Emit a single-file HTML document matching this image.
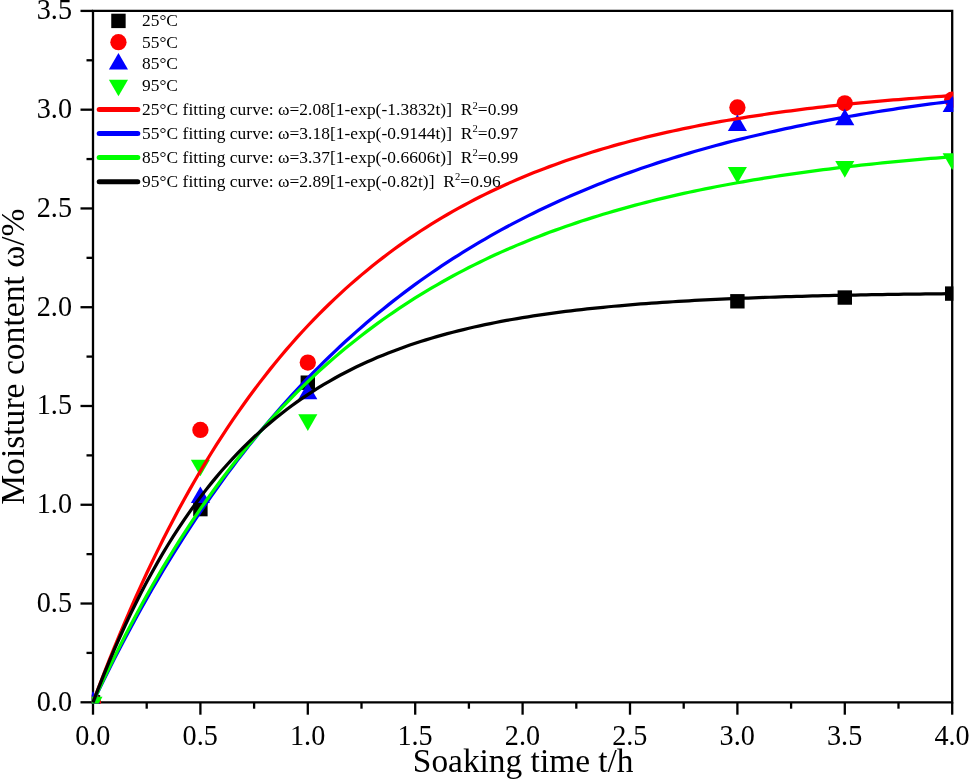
<!DOCTYPE html>
<html><head><meta charset="utf-8"><style>html,body{margin:0;padding:0;background:#fff;width:969px;height:779px;overflow:hidden}svg{display:block;will-change:transform}text{font-family:"Liberation Serif",serif;fill:#000}</style></head>
<body><svg width="969" height="779" viewBox="0 0 969 779" font-family="Liberation Serif, serif">
<defs><clipPath id="pc"><rect x="91.8" y="9.709999999999969" width="861.6" height="693.79"/></clipPath></defs>
<rect width="969" height="779" fill="#fff"/>
<path d="M93.0,10.909999999999968 L952.2,10.909999999999968 L952.2,702.3 L93.0,702.3 Z" fill="none" stroke="#000" stroke-width="2.3" stroke-linejoin="miter"/><line x1="80.50" y1="702.30" x2="93.0" y2="702.30" stroke="#000" stroke-width="2.3"/><line x1="86.50" y1="652.91" x2="93.0" y2="652.91" stroke="#000" stroke-width="2.3"/><line x1="80.50" y1="603.53" x2="93.0" y2="603.53" stroke="#000" stroke-width="2.3"/><line x1="86.50" y1="554.14" x2="93.0" y2="554.14" stroke="#000" stroke-width="2.3"/><line x1="80.50" y1="504.76" x2="93.0" y2="504.76" stroke="#000" stroke-width="2.3"/><line x1="86.50" y1="455.38" x2="93.0" y2="455.38" stroke="#000" stroke-width="2.3"/><line x1="80.50" y1="405.99" x2="93.0" y2="405.99" stroke="#000" stroke-width="2.3"/><line x1="86.50" y1="356.60" x2="93.0" y2="356.60" stroke="#000" stroke-width="2.3"/><line x1="80.50" y1="307.22" x2="93.0" y2="307.22" stroke="#000" stroke-width="2.3"/><line x1="86.50" y1="257.83" x2="93.0" y2="257.83" stroke="#000" stroke-width="2.3"/><line x1="80.50" y1="208.45" x2="93.0" y2="208.45" stroke="#000" stroke-width="2.3"/><line x1="86.50" y1="159.06" x2="93.0" y2="159.06" stroke="#000" stroke-width="2.3"/><line x1="80.50" y1="109.68" x2="93.0" y2="109.68" stroke="#000" stroke-width="2.3"/><line x1="86.50" y1="60.29" x2="93.0" y2="60.29" stroke="#000" stroke-width="2.3"/><line x1="80.50" y1="10.91" x2="93.0" y2="10.91" stroke="#000" stroke-width="2.3"/><line x1="93.00" y1="702.3" x2="93.00" y2="714.70" stroke="#000" stroke-width="2.3"/><line x1="146.70" y1="702.3" x2="146.70" y2="708.70" stroke="#000" stroke-width="2.3"/><line x1="200.40" y1="702.3" x2="200.40" y2="714.70" stroke="#000" stroke-width="2.3"/><line x1="254.10" y1="702.3" x2="254.10" y2="708.70" stroke="#000" stroke-width="2.3"/><line x1="307.80" y1="702.3" x2="307.80" y2="714.70" stroke="#000" stroke-width="2.3"/><line x1="361.50" y1="702.3" x2="361.50" y2="708.70" stroke="#000" stroke-width="2.3"/><line x1="415.20" y1="702.3" x2="415.20" y2="714.70" stroke="#000" stroke-width="2.3"/><line x1="468.90" y1="702.3" x2="468.90" y2="708.70" stroke="#000" stroke-width="2.3"/><line x1="522.60" y1="702.3" x2="522.60" y2="714.70" stroke="#000" stroke-width="2.3"/><line x1="576.30" y1="702.3" x2="576.30" y2="708.70" stroke="#000" stroke-width="2.3"/><line x1="630.00" y1="702.3" x2="630.00" y2="714.70" stroke="#000" stroke-width="2.3"/><line x1="683.70" y1="702.3" x2="683.70" y2="708.70" stroke="#000" stroke-width="2.3"/><line x1="737.40" y1="702.3" x2="737.40" y2="714.70" stroke="#000" stroke-width="2.3"/><line x1="791.10" y1="702.3" x2="791.10" y2="708.70" stroke="#000" stroke-width="2.3"/><line x1="844.80" y1="702.3" x2="844.80" y2="714.70" stroke="#000" stroke-width="2.3"/><line x1="898.50" y1="702.3" x2="898.50" y2="708.70" stroke="#000" stroke-width="2.3"/><line x1="952.20" y1="702.3" x2="952.20" y2="714.70" stroke="#000" stroke-width="2.3"/>
<g clip-path="url(#pc)"><rect x="85.80" y="695.10" width="14.4" height="14.4" fill="#000"/><rect x="193.20" y="501.91" width="14.4" height="14.4" fill="#000"/><rect x="300.60" y="375.48" width="14.4" height="14.4" fill="#000"/><rect x="730.20" y="294.09" width="14.4" height="14.4" fill="#000"/><rect x="837.60" y="290.34" width="14.4" height="14.4" fill="#000"/><rect x="945.00" y="286.39" width="14.4" height="14.4" fill="#000"/><circle cx="93.00" cy="702.30" r="8.15" fill="#f00"/><circle cx="200.40" cy="429.89" r="8.15" fill="#f00"/><circle cx="307.80" cy="362.53" r="8.15" fill="#f00"/><circle cx="737.40" cy="107.51" r="8.15" fill="#f00"/><circle cx="844.80" cy="103.36" r="8.15" fill="#f00"/><circle cx="952.20" cy="99.61" r="8.15" fill="#f00"/><polygon points="93.00,691.23 102.55,707.83 83.45,707.83" fill="#00f"/><polygon points="200.40,486.39 209.95,502.99 190.85,502.99" fill="#00f"/><polygon points="307.80,382.68 317.35,399.28 298.25,399.28" fill="#00f"/><polygon points="737.40,114.42 746.95,131.02 727.85,131.02" fill="#00f"/><polygon points="844.80,108.69 854.35,125.29 835.25,125.29" fill="#00f"/><polygon points="952.20,95.45 961.75,112.05 942.65,112.05" fill="#00f"/><polygon points="83.45,696.77 102.55,696.77 93.00,713.37" fill="#0f0"/><polygon points="190.85,459.72 209.95,459.72 200.40,476.32" fill="#0f0"/><polygon points="298.25,414.28 317.35,414.28 307.80,430.88" fill="#0f0"/><polygon points="727.85,166.96 746.95,166.96 737.40,183.56" fill="#0f0"/><polygon points="835.25,161.04 854.35,161.04 844.80,177.64" fill="#0f0"/><polygon points="942.65,153.33 961.75,153.33 952.20,169.93" fill="#0f0"/><path d="M93.00,702.30 L98.37,688.00 L103.74,674.04 L109.11,660.39 L114.48,647.06 L119.85,634.04 L125.22,621.31 L130.59,608.88 L135.96,596.73 L141.33,584.86 L146.70,573.27 L152.07,561.94 L157.44,550.87 L162.81,540.06 L168.18,529.49 L173.55,519.17 L178.92,509.09 L184.29,499.23 L189.66,489.61 L195.03,480.20 L200.40,471.01 L205.77,462.03 L211.14,453.26 L216.51,444.69 L221.88,436.32 L227.25,428.14 L232.62,420.15 L237.99,412.34 L243.36,404.71 L248.73,397.26 L254.10,389.98 L259.47,382.86 L264.84,375.91 L270.21,369.12 L275.58,362.49 L280.95,356.00 L286.32,349.67 L291.69,343.48 L297.06,337.44 L302.43,331.53 L307.80,325.76 L313.17,320.12 L318.54,314.62 L323.91,309.23 L329.28,303.98 L334.65,298.84 L340.02,293.82 L345.39,288.92 L350.76,284.12 L356.13,279.44 L361.50,274.87 L366.87,270.40 L372.24,266.04 L377.61,261.77 L382.98,257.61 L388.35,253.54 L393.72,249.56 L399.09,245.67 L404.46,241.88 L409.83,238.17 L415.20,234.54 L420.57,231.00 L425.94,227.54 L431.31,224.16 L436.68,220.86 L442.05,217.63 L447.42,214.48 L452.79,211.40 L458.16,208.39 L463.53,205.45 L468.90,202.58 L474.27,199.78 L479.64,197.04 L485.01,194.36 L490.38,191.74 L495.75,189.18 L501.12,186.69 L506.49,184.25 L511.86,181.86 L517.23,179.53 L522.60,177.26 L527.97,175.03 L533.34,172.86 L538.71,170.74 L544.08,168.66 L549.45,166.64 L554.82,164.66 L560.19,162.72 L565.56,160.83 L570.93,158.99 L576.30,157.19 L581.67,155.42 L587.04,153.70 L592.41,152.02 L597.78,150.38 L603.15,148.77 L608.52,147.20 L613.89,145.67 L619.26,144.17 L624.63,142.71 L630.00,141.28 L635.37,139.88 L640.74,138.52 L646.11,137.19 L651.48,135.88 L656.85,134.61 L662.22,133.37 L667.59,132.15 L672.96,130.97 L678.33,129.81 L683.70,128.67 L689.07,127.57 L694.44,126.49 L699.81,125.43 L705.18,124.40 L710.55,123.39 L715.92,122.41 L721.29,121.44 L726.66,120.50 L732.03,119.58 L737.40,118.69 L742.77,117.81 L748.14,116.95 L753.51,116.12 L758.88,115.30 L764.25,114.50 L769.62,113.72 L774.99,112.95 L780.36,112.21 L785.73,111.48 L791.10,110.77 L796.47,110.08 L801.84,109.40 L807.21,108.73 L812.58,108.08 L817.95,107.45 L823.32,106.83 L828.69,106.23 L834.06,105.64 L839.43,105.06 L844.80,104.50 L850.17,103.95 L855.54,103.41 L860.91,102.88 L866.28,102.37 L871.65,101.87 L877.02,101.38 L882.39,100.90 L887.76,100.43 L893.13,99.97 L898.50,99.53 L903.87,99.09 L909.24,98.66 L914.61,98.25 L919.98,97.84 L925.35,97.44 L930.72,97.05 L936.09,96.67 L941.46,96.30 L946.83,95.94 L952.20,95.59" fill="none" stroke="#ff0000" stroke-width="3.25" stroke-linejoin="round"/><path d="M93.00,702.30 L98.37,691.09 L103.74,680.08 L109.11,669.27 L114.48,658.64 L119.85,648.20 L125.22,637.95 L130.59,627.87 L135.96,617.97 L141.33,608.24 L146.70,598.69 L152.07,589.30 L157.44,580.07 L162.81,571.01 L168.18,562.11 L173.55,553.36 L178.92,544.77 L184.29,536.33 L189.66,528.03 L195.03,519.89 L200.40,511.88 L205.77,504.01 L211.14,496.29 L216.51,488.70 L221.88,481.24 L227.25,473.91 L232.62,466.71 L237.99,459.64 L243.36,452.69 L248.73,445.86 L254.10,439.16 L259.47,432.57 L264.84,426.09 L270.21,419.73 L275.58,413.48 L280.95,407.35 L286.32,401.31 L291.69,395.39 L297.06,389.57 L302.43,383.85 L307.80,378.23 L313.17,372.71 L318.54,367.28 L323.91,361.96 L329.28,356.72 L334.65,351.58 L340.02,346.53 L345.39,341.56 L350.76,336.68 L356.13,331.89 L361.50,327.19 L366.87,322.56 L372.24,318.02 L377.61,313.55 L382.98,309.17 L388.35,304.86 L393.72,300.63 L399.09,296.47 L404.46,292.38 L409.83,288.37 L415.20,284.42 L420.57,280.55 L425.94,276.74 L431.31,273.00 L436.68,269.33 L442.05,265.72 L447.42,262.17 L452.79,258.69 L458.16,255.26 L463.53,251.90 L468.90,248.60 L474.27,245.35 L479.64,242.16 L485.01,239.03 L490.38,235.95 L495.75,232.93 L501.12,229.95 L506.49,227.04 L511.86,224.17 L517.23,221.35 L522.60,218.58 L527.97,215.86 L533.34,213.19 L538.71,210.57 L544.08,207.99 L549.45,205.45 L554.82,202.96 L560.19,200.52 L565.56,198.12 L570.93,195.76 L576.30,193.44 L581.67,191.16 L587.04,188.92 L592.41,186.72 L597.78,184.56 L603.15,182.44 L608.52,180.35 L613.89,178.30 L619.26,176.29 L624.63,174.31 L630.00,172.37 L635.37,170.46 L640.74,168.59 L646.11,166.74 L651.48,164.93 L656.85,163.16 L662.22,161.41 L667.59,159.69 L672.96,158.01 L678.33,156.35 L683.70,154.72 L689.07,153.12 L694.44,151.55 L699.81,150.01 L705.18,148.49 L710.55,147.00 L715.92,145.54 L721.29,144.10 L726.66,142.69 L732.03,141.30 L737.40,139.94 L742.77,138.60 L748.14,137.28 L753.51,135.99 L758.88,134.72 L764.25,133.47 L769.62,132.24 L774.99,131.04 L780.36,129.85 L785.73,128.69 L791.10,127.55 L796.47,126.43 L801.84,125.32 L807.21,124.24 L812.58,123.18 L817.95,122.13 L823.32,121.10 L828.69,120.09 L834.06,119.10 L839.43,118.13 L844.80,117.17 L850.17,116.23 L855.54,115.31 L860.91,114.40 L866.28,113.51 L871.65,112.63 L877.02,111.77 L882.39,110.92 L887.76,110.09 L893.13,109.28 L898.50,108.48 L903.87,107.69 L909.24,106.91 L914.61,106.15 L919.98,105.41 L925.35,104.67 L930.72,103.95 L936.09,103.24 L941.46,102.55 L946.83,101.86 L952.20,101.19" fill="none" stroke="#0000ff" stroke-width="3.25" stroke-linejoin="round"/><path d="M93.00,702.30 L98.37,690.59 L103.74,679.13 L109.11,667.90 L114.48,656.90 L119.85,646.13 L125.22,635.59 L130.59,625.26 L135.96,615.15 L141.33,605.25 L146.70,595.55 L152.07,586.05 L157.44,576.75 L162.81,567.64 L168.18,558.72 L173.55,549.99 L178.92,541.43 L184.29,533.06 L189.66,524.85 L195.03,516.82 L200.40,508.95 L205.77,501.25 L211.14,493.70 L216.51,486.31 L221.88,479.08 L227.25,471.99 L232.62,465.05 L237.99,458.26 L243.36,451.60 L248.73,445.08 L254.10,438.70 L259.47,432.45 L264.84,426.33 L270.21,420.34 L275.58,414.47 L280.95,408.72 L286.32,403.09 L291.69,397.58 L297.06,392.18 L302.43,386.89 L307.80,381.71 L313.17,376.64 L318.54,371.68 L323.91,366.82 L329.28,362.05 L334.65,357.39 L340.02,352.83 L345.39,348.35 L350.76,343.97 L356.13,339.69 L361.50,335.49 L366.87,331.37 L372.24,327.34 L377.61,323.40 L382.98,319.54 L388.35,315.75 L393.72,312.05 L399.09,308.42 L404.46,304.87 L409.83,301.39 L415.20,297.98 L420.57,294.65 L425.94,291.38 L431.31,288.18 L436.68,285.05 L442.05,281.98 L447.42,278.97 L452.79,276.03 L458.16,273.15 L463.53,270.33 L468.90,267.56 L474.27,264.86 L479.64,262.21 L485.01,259.61 L490.38,257.07 L495.75,254.58 L501.12,252.14 L506.49,249.75 L511.86,247.42 L517.23,245.13 L522.60,242.88 L527.97,240.69 L533.34,238.54 L538.71,236.43 L544.08,234.37 L549.45,232.35 L554.82,230.37 L560.19,228.44 L565.56,226.54 L570.93,224.68 L576.30,222.86 L581.67,221.08 L587.04,219.34 L592.41,217.63 L597.78,215.96 L603.15,214.32 L608.52,212.72 L613.89,211.14 L619.26,209.61 L624.63,208.10 L630.00,206.62 L635.37,205.18 L640.74,203.76 L646.11,202.38 L651.48,201.02 L656.85,199.69 L662.22,198.39 L667.59,197.12 L672.96,195.87 L678.33,194.65 L683.70,193.45 L689.07,192.28 L694.44,191.13 L699.81,190.01 L705.18,188.91 L710.55,187.83 L715.92,186.77 L721.29,185.74 L726.66,184.73 L732.03,183.73 L737.40,182.76 L742.77,181.81 L748.14,180.88 L753.51,179.97 L758.88,179.08 L764.25,178.20 L769.62,177.35 L774.99,176.51 L780.36,175.69 L785.73,174.88 L791.10,174.09 L796.47,173.32 L801.84,172.57 L807.21,171.83 L812.58,171.10 L817.95,170.39 L823.32,169.70 L828.69,169.02 L834.06,168.35 L839.43,167.70 L844.80,167.06 L850.17,166.44 L855.54,165.82 L860.91,165.22 L866.28,164.64 L871.65,164.06 L877.02,163.50 L882.39,162.94 L887.76,162.40 L893.13,161.87 L898.50,161.36 L903.87,160.85 L909.24,160.35 L914.61,159.86 L919.98,159.39 L925.35,158.92 L930.72,158.46 L936.09,158.02 L941.46,157.58 L946.83,157.15 L952.20,156.73" fill="none" stroke="#00ff00" stroke-width="3.25" stroke-linejoin="round"/><path d="M93.00,702.30 L98.37,688.32 L103.74,674.82 L109.11,661.77 L114.48,649.17 L119.85,637.00 L125.22,625.25 L130.59,613.89 L135.96,602.92 L141.33,592.33 L146.70,582.10 L152.07,572.21 L157.44,562.66 L162.81,553.44 L168.18,544.53 L173.55,535.93 L178.92,527.62 L184.29,519.59 L189.66,511.84 L195.03,504.35 L200.40,497.11 L205.77,490.12 L211.14,483.37 L216.51,476.85 L221.88,470.56 L227.25,464.47 L232.62,458.60 L237.99,452.92 L243.36,447.44 L248.73,442.14 L254.10,437.03 L259.47,432.09 L264.84,427.32 L270.21,422.71 L275.58,418.25 L280.95,413.95 L286.32,409.80 L291.69,405.79 L297.06,401.91 L302.43,398.17 L307.80,394.55 L313.17,391.06 L318.54,387.68 L323.91,384.42 L329.28,381.28 L334.65,378.23 L340.02,375.30 L345.39,372.46 L350.76,369.72 L356.13,367.07 L361.50,364.52 L366.87,362.05 L372.24,359.66 L377.61,357.36 L382.98,355.13 L388.35,352.98 L393.72,350.91 L399.09,348.90 L404.46,346.96 L409.83,345.09 L415.20,343.28 L420.57,341.54 L425.94,339.85 L431.31,338.22 L436.68,336.65 L442.05,335.13 L447.42,333.66 L452.79,332.24 L458.16,330.87 L463.53,329.55 L468.90,328.27 L474.27,327.04 L479.64,325.85 L485.01,324.69 L490.38,323.58 L495.75,322.51 L501.12,321.47 L506.49,320.47 L511.86,319.50 L517.23,318.56 L522.60,317.66 L527.97,316.79 L533.34,315.94 L538.71,315.13 L544.08,314.34 L549.45,313.58 L554.82,312.85 L560.19,312.14 L565.56,311.46 L570.93,310.79 L576.30,310.15 L581.67,309.54 L587.04,308.94 L592.41,308.37 L597.78,307.81 L603.15,307.27 L608.52,306.75 L613.89,306.25 L619.26,305.77 L624.63,305.30 L630.00,304.85 L635.37,304.41 L640.74,303.99 L646.11,303.59 L651.48,303.19 L656.85,302.81 L662.22,302.45 L667.59,302.09 L672.96,301.75 L678.33,301.42 L683.70,301.10 L689.07,300.79 L694.44,300.49 L699.81,300.21 L705.18,299.93 L710.55,299.66 L715.92,299.40 L721.29,299.15 L726.66,298.91 L732.03,298.67 L737.40,298.45 L742.77,298.23 L748.14,298.02 L753.51,297.82 L758.88,297.62 L764.25,297.43 L769.62,297.25 L774.99,297.07 L780.36,296.90 L785.73,296.73 L791.10,296.57 L796.47,296.42 L801.84,296.27 L807.21,296.13 L812.58,295.99 L817.95,295.85 L823.32,295.72 L828.69,295.60 L834.06,295.48 L839.43,295.36 L844.80,295.25 L850.17,295.14 L855.54,295.03 L860.91,294.93 L866.28,294.83 L871.65,294.74 L877.02,294.65 L882.39,294.56 L887.76,294.47 L893.13,294.39 L898.50,294.31 L903.87,294.23 L909.24,294.16 L914.61,294.09 L919.98,294.02 L925.35,293.95 L930.72,293.89 L936.09,293.82 L941.46,293.76 L946.83,293.70 L952.20,293.65" fill="none" stroke="#000000" stroke-width="3.25" stroke-linejoin="round"/></g>
<text transform="translate(72.0,710.60) scale(1,1.045)" text-anchor="end" font-size="28.2">0.0</text><text transform="translate(72.0,611.83) scale(1,1.045)" text-anchor="end" font-size="28.2">0.5</text><text transform="translate(72.0,513.06) scale(1,1.045)" text-anchor="end" font-size="28.2">1.0</text><text transform="translate(72.0,414.29) scale(1,1.045)" text-anchor="end" font-size="28.2">1.5</text><text transform="translate(72.0,315.52) scale(1,1.045)" text-anchor="end" font-size="28.2">2.0</text><text transform="translate(72.0,216.75) scale(1,1.045)" text-anchor="end" font-size="28.2">2.5</text><text transform="translate(72.0,117.98) scale(1,1.045)" text-anchor="end" font-size="28.2">3.0</text><text transform="translate(72.0,19.21) scale(1,1.045)" text-anchor="end" font-size="28.2">3.5</text><text transform="translate(92.80,745.4) scale(1,1.045)" text-anchor="middle" font-size="28.2">0.0</text><text transform="translate(200.20,745.4) scale(1,1.045)" text-anchor="middle" font-size="28.2">0.5</text><text transform="translate(307.60,745.4) scale(1,1.045)" text-anchor="middle" font-size="28.2">1.0</text><text transform="translate(415.00,745.4) scale(1,1.045)" text-anchor="middle" font-size="28.2">1.5</text><text transform="translate(522.40,745.4) scale(1,1.045)" text-anchor="middle" font-size="28.2">2.0</text><text transform="translate(629.80,745.4) scale(1,1.045)" text-anchor="middle" font-size="28.2">2.5</text><text transform="translate(737.20,745.4) scale(1,1.045)" text-anchor="middle" font-size="28.2">3.0</text><text transform="translate(844.60,745.4) scale(1,1.045)" text-anchor="middle" font-size="28.2">3.5</text><text transform="translate(952.00,745.4) scale(1,1.045)" text-anchor="middle" font-size="28.2">4.0</text><text x="523.2" y="772.3" text-anchor="middle" font-size="33.4">Soaking time t/h</text><text transform="translate(23.7,356.6) rotate(-90) scale(1,1.03)" x="0" y="0" text-anchor="middle" font-size="33.6">Moisture content ω/%</text>
<rect x="111.25" y="13.70" width="14.4" height="14.4" fill="#000"/><circle cx="118.45" cy="42.15" r="8.15" fill="#f00"/><polygon points="118.45,52.9 128.0,69.6 108.9,69.6" fill="#00f"/><polygon points="108.9,79.7 128.0,79.7 118.45,96.2" fill="#0f0"/><text x="142.0" y="25.70" font-size="17.4">25°C</text><text x="142.0" y="47.50" font-size="17.4">55°C</text><text x="142.0" y="69.30" font-size="17.4">85°C</text><text x="142.0" y="91.10" font-size="17.4">95°C</text><line x1="99.2" y1="109.50" x2="137.8" y2="109.50" stroke="#ff0000" stroke-width="5" stroke-linecap="round"/><text x="142.0" y="115.10" font-size="17.4" letter-spacing="0.05" xml:space="preserve">25°C fitting curve: ω=2.08[1-exp(-1.3832t)]  R<tspan font-size="10.6" dy="-6.6">2</tspan><tspan dy="6.6">=0.99</tspan></text><line x1="99.2" y1="133.55" x2="137.8" y2="133.55" stroke="#0000ff" stroke-width="5" stroke-linecap="round"/><text x="142.0" y="138.90" font-size="17.4" letter-spacing="0.05" xml:space="preserve">55°C fitting curve: ω=3.18[1-exp(-0.9144t)]  R<tspan font-size="10.6" dy="-6.6">2</tspan><tspan dy="6.6">=0.97</tspan></text><line x1="99.2" y1="157.60" x2="137.8" y2="157.60" stroke="#00ff00" stroke-width="5" stroke-linecap="round"/><text x="142.0" y="162.70" font-size="17.4" letter-spacing="0.05" xml:space="preserve">85°C fitting curve: ω=3.37[1-exp(-0.6606t)]  R<tspan font-size="10.6" dy="-6.6">2</tspan><tspan dy="6.6">=0.99</tspan></text><line x1="99.2" y1="181.65" x2="137.8" y2="181.65" stroke="#000000" stroke-width="5" stroke-linecap="round"/><text x="142.0" y="186.50" font-size="17.4" letter-spacing="0.05" xml:space="preserve">95°C fitting curve: ω=2.89[1-exp(-0.82t)]  R<tspan font-size="10.6" dy="-6.6">2</tspan><tspan dy="6.6">=0.96</tspan></text>
</svg></body></html>
